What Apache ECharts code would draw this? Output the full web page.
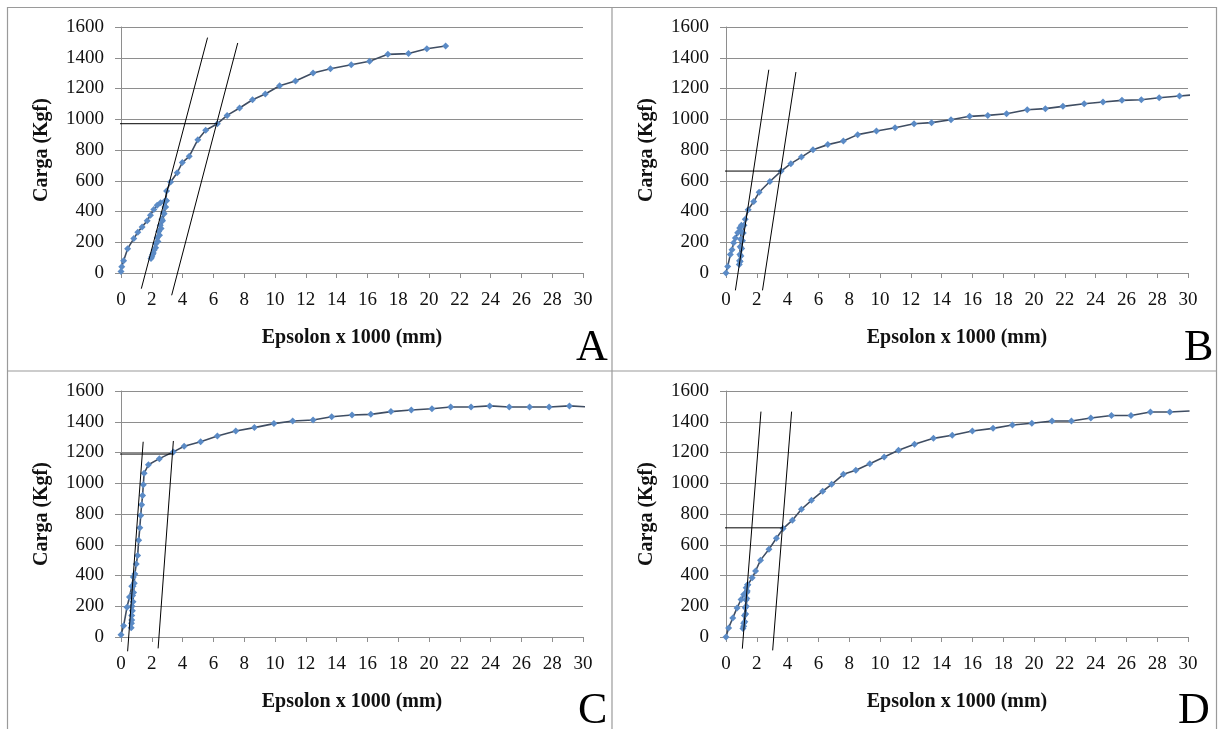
<!DOCTYPE html>
<html>
<head>
<meta charset="utf-8">
<script src="https://cdn.jsdelivr.net/npm/echarts@6/dist/echarts.min.js"></script>
<style>
html,body{margin:0;padding:0;background:#fff;}
#chart{width:1219px;height:729px;}
</style>
</head>
<body>
<div id="chart"></div>
<script>
// ---------- DATA ----------
const panelLetters = ['A', 'B', 'C', 'D'];
const xTitle = 'Epsolon x 1000 (mm)';
const yTitle = 'Carga (Kgf)';

// Panel A
const aStrain = [0, 0.05, 0.17, 0.43, 0.83, 1.09, 1.37, 1.7, 1.91, 2.13, 2.35, 2.57, 2.83, 2.96,
  2.9, 2.8, 2.7, 2.6, 2.5, 2.4, 2.25, 2.1, 2.0, 1.95,
  2.05, 2.15, 2.25, 2.35, 2.45, 2.55, 2.65, 2.75, 2.85, 2.92, 2.96, 3.22, 3.65, 3.98, 4.43, 4.99, 5.5,
  6.26, 6.89, 7.7, 8.54, 9.37, 10.3, 11.33, 12.47, 13.6, 14.95, 16.14, 17.33, 18.67, 19.86, 21.08];
const aLoad = [10, 40, 80, 158, 224, 265, 300, 340, 376, 413, 441, 457, 467, 470,
  430, 385, 340, 290, 245, 205, 165, 130, 105, 95,
  120, 150, 190, 230, 270, 310, 350, 390, 430, 470, 533, 592, 652, 718, 759, 867, 928,
  971, 1025, 1073, 1127, 1164, 1218, 1249, 1301, 1329, 1355, 1377, 1422, 1427, 1459, 1476];
const aTangent1 = [[1.32, -102], [5.62, 1531]];
const aTangent2 = [[3.29, -145], [7.58, 1496]];
const aYield = [[-3.75, 971], [6.26, 971]];

// Panel B
const bStrain = [0, 0.11, 0.28, 0.39, 0.5, 0.61, 0.76, 0.89, 1.0,
  0.98, 0.95, 0.92, 0.9, 0.88, 0.86,
  0.92, 0.97, 1.02, 1.07, 1.12, 1.17, 1.25, 1.44, 1.8, 2.15, 2.85, 3.58, 4.21, 4.9, 5.65, 6.61,
  7.62, 8.55, 9.77, 10.98, 12.21, 13.35, 14.61, 15.82, 17.0, 18.22, 19.56, 20.74, 21.88, 23.26,
  24.48, 25.71, 26.97, 28.13, 29.45, 30.7];
const bLoad = [0, 43, 120, 152, 196, 228, 261, 293, 310,
  270, 220, 170, 120, 80, 55,
  75, 110, 160, 210, 260, 310, 350, 412, 465, 525, 595, 663, 711, 754, 802, 835,
  859, 900, 924, 945, 971, 978, 997, 1019, 1025, 1036, 1062, 1069, 1084, 1101,
  1112, 1123, 1127, 1140, 1151, 1162];
const bTangent1 = [[0.61, -113], [2.78, 1322]];
const bTangent2 = [[2.37, -113], [4.54, 1307]];
const bYield = [[-1.34, 663], [3.58, 663]];

// Panel C
const cStrain = [0, 0.17, 0.39, 0.55, 0.7, 0.8,
  0.78, 0.75, 0.72, 0.7, 0.68, 0.66,
  0.7, 0.74, 0.78, 0.82, 0.86, 0.9, 0.99, 1.08, 1.15, 1.22, 1.28, 1.34, 1.4, 1.45, 1.5, 1.78,
  2.49, 3.4, 4.1, 5.17, 6.26, 7.45, 8.66, 9.93, 11.15, 12.47, 13.68, 15.0, 16.22, 17.53, 18.85,
  20.19, 21.41, 22.73, 23.94, 25.21, 26.53, 27.8, 29.12, 30.4];
const cLoad = [15, 73, 194, 260, 330, 390,
  330, 270, 200, 140, 90, 60,
  110, 170, 230, 290, 350, 410, 475, 530, 630, 710, 790, 860, 920, 990, 1065, 1120,
  1160, 1204, 1241, 1270, 1307, 1340, 1362, 1388, 1405, 1411, 1433, 1444, 1448, 1466, 1476,
  1485, 1496, 1496, 1503, 1496, 1496, 1496, 1503, 1496];
const cTangent1 = [[0.43, -93], [1.44, 1270]];
const cTangent2 = [[2.41, -74], [3.4, 1275]];
const cYield = [[-3.75, 1190], [3.4, 1190]];

// Panel D
const dStrain = [0, 0.17, 0.44, 0.72, 0.98, 1.15, 1.31, 1.4,
  1.38, 1.35, 1.32, 1.28, 1.22, 1.15, 1.1,
  1.15, 1.2, 1.25, 1.3, 1.35, 1.42, 1.7, 1.92, 2.24, 2.79, 3.27, 3.71, 4.31, 4.9, 5.55, 6.28,
  6.86, 7.62, 8.43, 9.34, 10.27, 11.2, 12.24, 13.47, 14.69, 16.0, 17.34, 18.6, 19.86, 21.17,
  22.43, 23.69, 25.03, 26.3, 27.56, 28.82, 30.1];
const dLoad = [0, 59, 124, 189, 244, 276, 320, 340,
  300, 250, 200, 150, 100, 70, 55,
  90, 140, 190, 240, 290, 340, 385, 429, 500, 570, 642, 705, 760, 831, 889, 948,
  993, 1058, 1084, 1127, 1171, 1214, 1253, 1292, 1312, 1340, 1357, 1379, 1390, 1405,
  1405, 1424, 1441, 1441, 1463, 1463, 1470];
const dTangent1 = [[1.06, -76], [2.27, 1466]];
const dTangent2 = [[3.03, -87], [4.26, 1466]];
const dYield = [[-1.46, 710], [3.71, 710]];

// ---------- BUILD ----------
const panels = [
  { strain: aStrain, load: aLoad, t1: aTangent1, t2: aTangent2, y: aYield },
  { strain: bStrain, load: bLoad, t1: bTangent1, t2: bTangent2, y: bYield },
  { strain: cStrain, load: cLoad, t1: cTangent1, t2: cTangent2, y: cYield },
  { strain: dStrain, load: dLoad, t1: dTangent1, t2: dTangent2, y: dYield }
];

const FONT = '"Liberation Serif", "Times New Roman", serif';
const gridPos = [
  { left: 121, top: 27 },
  { left: 726, top: 27 },
  { left: 121, top: 391 },
  { left: 726, top: 391 }
];
const GW = 462, GH = 246;
const gridColor = '#8e8e8e';

const grids = [], xAxes = [], yAxes = [], series = [];
panels.forEach((p, i) => {
  grids.push({ left: gridPos[i].left, top: gridPos[i].top, width: GW, height: GH, containLabel: false });
  xAxes.push({
    type: 'value', gridIndex: i, min: 0, max: 30, interval: 2,
    name: xTitle, nameLocation: 'middle', nameGap: 55,
    nameTextStyle: { fontFamily: FONT, fontWeight: 'bold', fontSize: 20, color: '#111' },
    axisLine: { show: true, onZero: false, lineStyle: { color: gridColor, width: 1 } },
    axisTick: { show: true, length: 5, lineStyle: { color: gridColor } },
    axisLabel: { fontFamily: FONT, fontSize: 19, color: '#111', margin: 18, formatter: v => String(v) },
    splitLine: { show: false }
  });
  yAxes.push({
    type: 'value', gridIndex: i, min: 0, max: 1600, interval: 200,
    name: yTitle, nameLocation: 'middle', nameGap: 69, nameRotate: 90,
    nameTextStyle: { fontFamily: FONT, fontWeight: 'bold', fontSize: 20, color: '#111' },
    axisLine: { show: true, lineStyle: { color: gridColor, width: 1 } },
    axisTick: { show: true, length: 6, lineStyle: { color: gridColor } },
    axisLabel: { fontFamily: FONT, fontSize: 19, color: '#111', margin: 17, formatter: v => String(v) },
    splitLine: { show: true, lineStyle: { color: gridColor, width: 1 } }
  });
  const pts = p.strain.map((x, k) => [x, p.load[k]]);
  series.push({
    type: 'line', xAxisIndex: i, yAxisIndex: i, data: pts,
    symbol: 'diamond', symbolSize: 7, showSymbol: true,
    itemStyle: { color: '#5b8bc6' },
    lineStyle: { color: '#3f4d62', width: 1.6 },
    clip: true, animation: false, z: 3
  });
  [p.t1, p.t2, p.y].forEach(seg => {
    series.push({
      type: 'line', xAxisIndex: i, yAxisIndex: i, data: seg,
      symbol: 'none', lineStyle: { color: '#000', width: 1 },
      clip: false, animation: false, z: 4
    });
  });
});

const letterPos = [
  { left: 576, top: 326 },
  { left: 1184, top: 326 },
  { left: 578, top: 689 },
  { left: 1178, top: 689 }
];
const graphics = [
  { type: 'rect', shape: { x: 7.5, y: 7.5, width: 1209, height: 730 }, style: { fill: 'none', stroke: '#9a9a9a', lineWidth: 1.2 }, silent: true },
  { type: 'line', shape: { x1: 612, y1: 7.5, x2: 612, y2: 729 }, style: { stroke: '#9a9a9a', lineWidth: 1.2 }, silent: true },
  { type: 'line', shape: { x1: 7.5, y1: 371, x2: 1217, y2: 371 }, style: { stroke: '#9a9a9a', lineWidth: 1.2 }, silent: true }
];
panelLetters.forEach((L, i) => {
  graphics.push({
    type: 'text', left: letterPos[i].left, top: letterPos[i].top,
    style: { text: L, font: '44px ' + FONT, fill: '#000' }, silent: true
  });
});

const chart = echarts.init(document.getElementById('chart'), null, { renderer: 'canvas' });
chart.setOption({
  backgroundColor: '#fff',
  animation: false,
  grid: grids,
  xAxis: xAxes,
  yAxis: yAxes,
  series: series,
  graphic: graphics
});
</script>
</body>
</html>
